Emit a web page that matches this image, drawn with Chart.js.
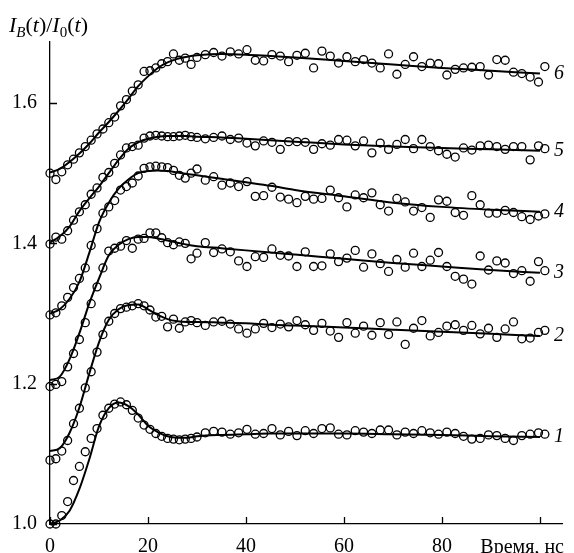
<!DOCTYPE html>
<html>
<head>
<meta charset="utf-8">
<script src="https://cdn.jsdelivr.net/npm/chart.js@4.4.1/dist/chart.umd.min.js"></script>
<style>
html, body { margin: 0; padding: 0; background: #fff; }
</style>
</head>
<body>
<canvas id="chart" width="574" height="553"></canvas>
<script>
// time of each measured point, ns
const times = [0, 1.2, 2.4, 3.6, 4.8, 6.0, 7.2, 8.4, 9.6, 10.8, 12.0, 13.2, 14.4, 15.6, 16.8, 18.0, 19.2, 20.4, 21.6, 22.8, 24.0, 25.2, 26.4, 27.6, 28.8, 30.0,
  31.7, 33.4, 35.1, 36.8, 38.5, 40.2, 41.9, 43.6, 45.3, 47.0, 48.7, 50.4, 52.1, 53.8, 55.5, 57.2, 58.9, 60.6, 62.3, 64.0,
  65.7, 67.4, 69.1, 70.8, 72.5, 74.2, 75.9, 77.6, 79.3, 81.0, 82.7, 84.4, 86.1, 87.8, 89.5, 91.2, 92.9, 94.6, 96.3, 98.0, 99.7, 101.0];

const curve1 = [1.000, 1.000, 1.012, 1.032, 1.062, 1.082, 1.103, 1.122, 1.136, 1.155, 1.165, 1.171, 1.174, 1.170, 1.162, 1.151, 1.141, 1.135, 1.129, 1.125, 1.122, 1.121, 1.120, 1.121, 1.122, 1.124,
  1.130, 1.132, 1.131, 1.128, 1.130, 1.135, 1.128, 1.129, 1.136, 1.127, 1.132, 1.126, 1.133, 1.129, 1.136, 1.137, 1.128, 1.127, 1.133, 1.131,
  1.129, 1.134, 1.134, 1.127, 1.131, 1.129, 1.133, 1.130, 1.128, 1.131, 1.129, 1.125, 1.121, 1.122, 1.127, 1.126, 1.122, 1.119, 1.126, 1.128, 1.130, 1.128];
const curve2 = [1.091, 1.093, 1.104, 1.119, 1.143, 1.165, 1.194, 1.217, 1.245, 1.270, 1.289, 1.300, 1.307, 1.309, 1.311, 1.314, 1.311, 1.305, 1.295, 1.296, 1.281, 1.292, 1.279, 1.288, 1.290, 1.287,
  1.283, 1.288, 1.289, 1.285, 1.278, 1.272, 1.278, 1.286, 1.280, 1.285, 1.281, 1.290, 1.284, 1.276, 1.286, 1.275, 1.266, 1.287, 1.272, 1.282,
  1.269, 1.287, 1.270, 1.288, 1.256, 1.279, 1.290, 1.268, 1.273, 1.282, 1.284, 1.276, 1.283, 1.271, 1.279, 1.266, 1.278, 1.288, 1.264, 1.265, 1.273, 1.276];
const curve3 = [1.196, 1.199, 1.203, 1.224, 1.243, 1.263, 1.287, 1.314, 1.338, 1.365, 1.389, 1.393, 1.396, 1.404, 1.393, 1.406, 1.407, 1.415, 1.415, 1.408, 1.401, 1.398, 1.402, 1.400, 1.378, 1.386,
  1.401, 1.387, 1.392, 1.388, 1.375, 1.367, 1.381, 1.380, 1.392, 1.383, 1.382, 1.367, 1.388, 1.367, 1.368, 1.385, 1.374, 1.379, 1.390, 1.366,
  1.385, 1.371, 1.360, 1.377, 1.366, 1.386, 1.367, 1.376, 1.387, 1.367, 1.353, 1.349, 1.342, 1.382, 1.362, 1.375, 1.372, 1.357, 1.361, 1.346, 1.374, 1.361];
const curve4 = [1.298, 1.301, 1.311, 1.323, 1.337, 1.350, 1.365, 1.397, 1.421, 1.443, 1.452, 1.461, 1.476, 1.481, 1.486, 1.496, 1.507, 1.509, 1.510, 1.509, 1.508, 1.504, 1.497, 1.493, 1.500, 1.506,
  1.490, 1.495, 1.483, 1.486, 1.481, 1.488, 1.467, 1.468, 1.480, 1.466, 1.463, 1.458, 1.467, 1.463, 1.464, 1.476, 1.465, 1.452, 1.469, 1.465,
  1.472, 1.455, 1.446, 1.464, 1.459, 1.446, 1.451, 1.437, 1.462, 1.460, 1.444, 1.440, 1.468, 1.455, 1.443, 1.443, 1.447, 1.444, 1.438, 1.434, 1.439, 1.442];
const curve5 = [1.399, 1.409, 1.406, 1.418, 1.433, 1.445, 1.455, 1.470, 1.479, 1.494, 1.501, 1.514, 1.526, 1.536, 1.538, 1.540, 1.550, 1.553, 1.554, 1.553, 1.552, 1.552, 1.553, 1.554, 1.552, 1.551,
  1.549, 1.551, 1.553, 1.548, 1.550, 1.543, 1.539, 1.546, 1.544, 1.534, 1.545, 1.545, 1.544, 1.534, 1.542, 1.540, 1.548, 1.547, 1.539, 1.546,
  1.529, 1.543, 1.534, 1.541, 1.548, 1.535, 1.548, 1.538, 1.532, 1.527, 1.523, 1.536, 1.533, 1.539, 1.540, 1.538, 1.534, 1.538, 1.538, 1.519, 1.539, 1.535];
const curve6 = [1.500, 1.491, 1.502, 1.512, 1.520, 1.529, 1.538, 1.547, 1.556, 1.563, 1.572, 1.580, 1.596, 1.605, 1.617, 1.626, 1.645, 1.646, 1.650, 1.656, 1.659, 1.670, 1.661, 1.664, 1.655, 1.665,
  1.669, 1.672, 1.667, 1.673, 1.670, 1.676, 1.661, 1.660, 1.669, 1.667, 1.659, 1.668, 1.671, 1.650, 1.674, 1.667, 1.657, 1.666, 1.659, 1.662,
  1.657, 1.650, 1.670, 1.641, 1.655, 1.666, 1.652, 1.657, 1.656, 1.640, 1.648, 1.650, 1.651, 1.652, 1.640, 1.662, 1.661, 1.644, 1.642, 1.637, 1.630, 1.652];

// fitted curves
const fitTimes = [0, 2, 4, 6, 8, 10, 12, 14, 16, 18, 20, 22, 24, 26, 28, 30, 35, 40, 45, 50, 60, 70, 80, 90, 100];
const fit1 = [1.000, 1.005, 1.019, 1.050, 1.092, 1.139, 1.165, 1.173, 1.168, 1.156, 1.140, 1.131, 1.125, 1.123, 1.123, 1.125, 1.127, 1.128, 1.129, 1.129, 1.129, 1.128, 1.127, 1.125, 1.124];
const fit2 = [1.104, 1.108, 1.130, 1.166, 1.214, 1.259, 1.291, 1.306, 1.312, 1.313, 1.306, 1.298, 1.292, 1.289, 1.288, 1.288, 1.287, 1.286, 1.284, 1.283, 1.280, 1.277, 1.274, 1.271, 1.268];
const fit3 = [1.205, 1.210, 1.235, 1.272, 1.314, 1.350, 1.383, 1.398, 1.406, 1.409, 1.409, 1.407, 1.404, 1.401, 1.398, 1.396, 1.393, 1.390, 1.387, 1.384, 1.378, 1.372, 1.367, 1.362, 1.358];
const fit4 = [1.300, 1.306, 1.321, 1.345, 1.386, 1.430, 1.458, 1.478, 1.491, 1.500, 1.503, 1.504, 1.503, 1.501, 1.499, 1.497, 1.492, 1.487, 1.482, 1.476, 1.467, 1.458, 1.452, 1.448, 1.445];
const fit5 = [1.401, 1.410, 1.424, 1.446, 1.464, 1.481, 1.500, 1.519, 1.535, 1.544, 1.549, 1.552, 1.553, 1.553, 1.553, 1.552, 1.551, 1.549, 1.547, 1.545, 1.541, 1.538, 1.536, 1.534, 1.532];
const fit6 = [1.501, 1.506, 1.516, 1.528, 1.542, 1.558, 1.573, 1.589, 1.606, 1.624, 1.638, 1.650, 1.658, 1.663, 1.666, 1.668, 1.670, 1.669, 1.667, 1.665, 1.660, 1.655, 1.650, 1.646, 1.642];

const curveNames = ["1", "2", "3", "4", "5", "6"];
const xTicks = [0, 20, 40, 60, 80, 100];
const xTickLabels = ["0", "20", "40", "60", "80", ""];
const yTicks = [1.0, 1.2, 1.4, 1.6];
const xTitle = "Время, нс";

const serif = '"Liberation Serif", "Times New Roman", serif';
Chart.defaults.font.family = serif;
Chart.defaults.font.size = 20;
Chart.defaults.color = "#000";

const pointSets = [curve1, curve2, curve3, curve4, curve5, curve6];
const fitSets = [fit1, fit2, fit3, fit4, fit5, fit6];

const datasets = [];
fitSets.forEach(f => {
    datasets.push({
        data: fitTimes.map((t, i) => ({ x: t, y: f[i] })),
        showLine: true,
        borderColor: "#000",
        borderWidth: 2,
        pointRadius: 0,
        cubicInterpolationMode: "monotone",
        fill: false,
        clip: false
    });
});
pointSets.forEach(c => {
    datasets.push({
        data: times.map((t, i) => ({ x: t, y: c[i] })),
        showLine: false,
        pointRadius: 4,
        pointBorderWidth: 1.3,
        pointBorderColor: "#000",
        pointBackgroundColor: "rgba(0,0,0,0)",
        clip: false
    });
});

// inner ticks, curve numbers and axis titles
const decor = {
    id: "decor",
    afterDraw(chart) {
        const { ctx } = chart;
        const x = chart.scales.x, y = chart.scales.y;
        ctx.save();
        ctx.strokeStyle = "#000";
        ctx.lineWidth = 1.3;
        ctx.beginPath();
        yTicks.forEach(v => {
            const py = Math.round(y.getPixelForValue(v)) + 0.5;
            ctx.moveTo(x.left, py);
            ctx.lineTo(x.left + 7, py);
        });
        xTicks.forEach(v => {
            const px = Math.round(x.getPixelForValue(v)) + 0.5;
            ctx.moveTo(px, y.bottom);
            ctx.lineTo(px, y.bottom - 7);
        });
        ctx.stroke();

        ctx.fillStyle = "#000";
        ctx.font = "italic 20px " + serif;
        ctx.textAlign = "center";
        ctx.textBaseline = "middle";
        fitSets.forEach((f, i) => {
            ctx.fillText(curveNames[i], x.getPixelForValue(100) + 19, y.getPixelForValue(f[f.length - 1]));
        });

        ctx.font = "20px " + serif;
        ctx.textAlign = "right";
        ctx.textBaseline = "alphabetic";
        ctx.fillText(xTitle, x.right + 2, y.bottom + 29);

        // I_B(t)/I_0(t)
        const parts = [
            ["I", "italic 22px", 0], ["B", "italic 15px", 5], ["(", "22px", 0], ["t", "italic 22px", 0], [")", "22px", 0],
            ["/", "22px", 0], ["I", "italic 22px", 0], ["0", "15px", 5], ["(", "22px", 0], ["t", "italic 22px", 0], [")", "22px", 0]
        ];
        ctx.textAlign = "left";
        let px = 9;
        parts.forEach(p => {
            ctx.font = p[1] + " " + serif;
            ctx.fillText(p[0], px, 32 + p[2]);
            px += ctx.measureText(p[0]).width;
        });
        ctx.restore();
    }
};

new Chart(document.getElementById("chart"), {
    type: "scatter",
    data: { datasets: datasets },
    options: {
        responsive: false,
        animation: false,
        layout: { padding: { top: 42, right: 12, left: 0, bottom: 0 } },
        plugins: { legend: { display: false }, tooltip: { enabled: false } },
        scales: {
            x: {
                type: "linear",
                min: 0,
                max: 104.5,
                afterFit: s => { s.height = 29; },
                afterBuildTicks: s => { s.ticks = xTicks.map(v => ({ value: v })); },
                grid: { drawOnChartArea: false, drawTicks: false },
                border: { color: "#000", width: 1.3 },
                ticks: {
                    padding: 11,
                    maxRotation: 0,
                    callback: (v, i) => xTickLabels[i]
                }
            },
            y: {
                type: "linear",
                min: 1.0,
                max: 1.687,
                afterFit: s => { s.width = 50; },
                afterBuildTicks: s => { s.ticks = yTicks.map(v => ({ value: v })); },
                grid: { drawOnChartArea: false, drawTicks: false },
                border: { color: "#000", width: 1.3 },
                ticks: {
                    padding: 13,
                    callback: v => v.toFixed(1)
                }
            }
        }
    },
    plugins: [decor]
});
</script>
</body>
</html>
